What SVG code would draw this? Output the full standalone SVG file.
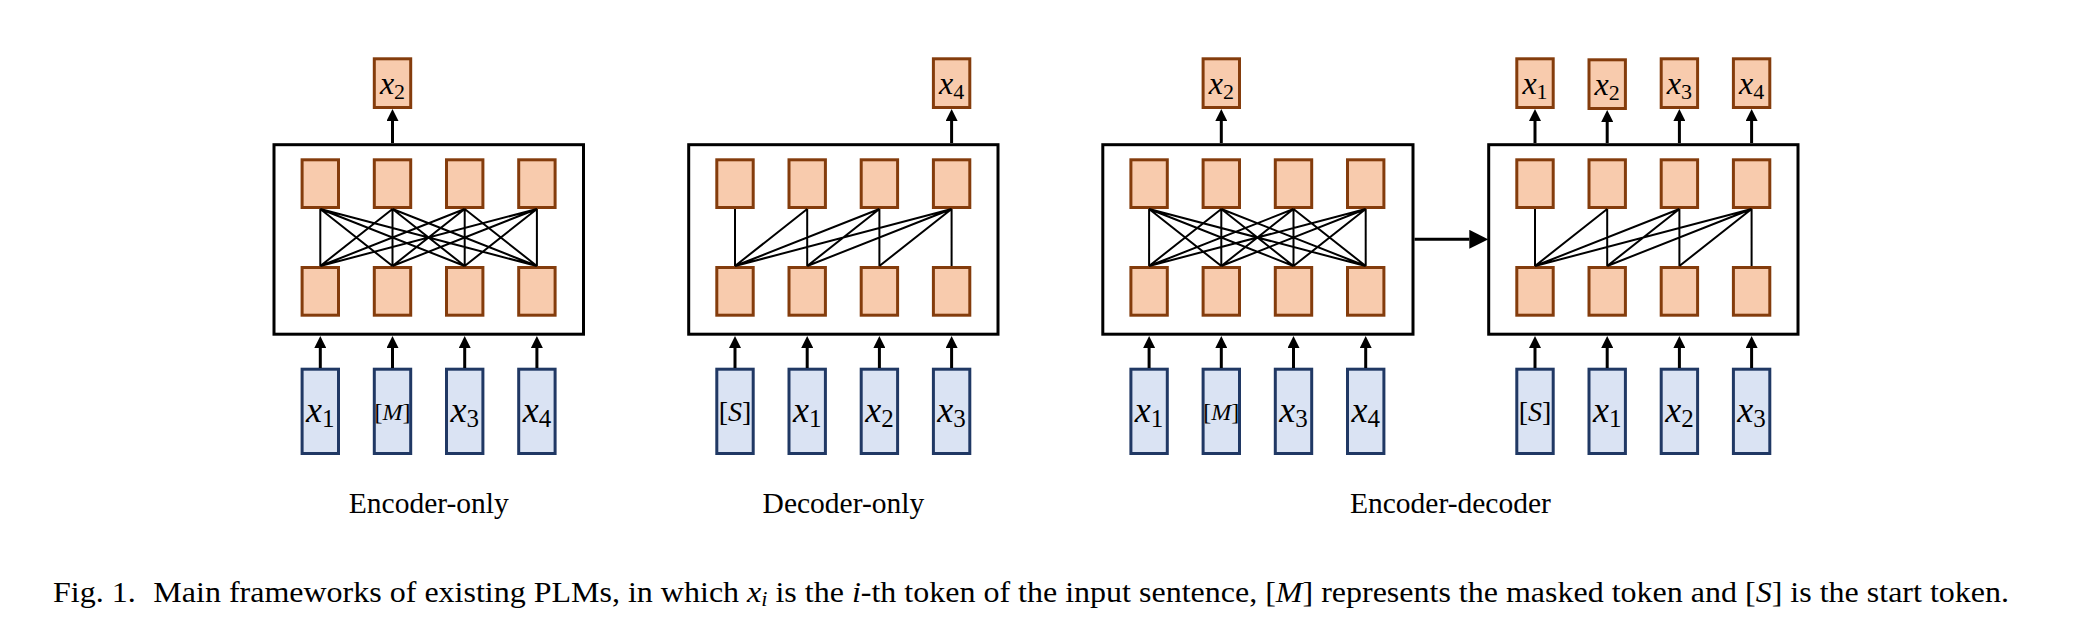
<svg xmlns="http://www.w3.org/2000/svg" width="2075" height="629" viewBox="0 0 2075 629">
<style>
.frame{fill:#fff;stroke:#000;stroke-width:3}
.ob{fill:#F8CBAD;stroke:#843C0C;stroke-width:3}
.ib{fill:#DAE3F3;stroke:#203864;stroke-width:3}
.conn{fill:none;stroke:#000;stroke-width:2}
.arr{fill:none;stroke:#000;stroke-width:3}
.mo{font-family:"Liberation Serif",serif;font-size:32px;fill:#000}
.mi{font-family:"Liberation Serif",serif;font-size:36px;fill:#000}
.br{font-size:24px}
.bs{font-size:28px}
.it{font-style:italic}
.so{font-size:22px}
.si{font-size:25px}
.lbl{font-family:"Liberation Serif",serif;font-size:29.5px;fill:#000}
.cap{font-family:"Liberation Serif",serif;font-size:29px;fill:#000}
</style>
<defs>
<marker id="ah" markerUnits="userSpaceOnUse" markerWidth="12" markerHeight="12" viewBox="0 0 12 12" refX="0" refY="6" orient="auto"><path d="M0,0L12,6L0,12z" fill="#000"/></marker>
<marker id="ahb" markerUnits="userSpaceOnUse" markerWidth="19" markerHeight="19" viewBox="0 0 19 19" refX="0" refY="9.5" orient="auto"><path d="M0,0L19,9.5L0,19z" fill="#000"/></marker>
</defs>

<!-- Encoder-only -->
<g id="encoder-only">
<rect class="frame" x="274" y="144.7" width="309.5" height="189.5"/>
<rect class="ob" x="302.1" y="159.8" width="36.4" height="47.7"/>
<rect class="ob" x="374.3" y="159.8" width="36.4" height="47.7"/>
<rect class="ob" x="446.5" y="159.8" width="36.4" height="47.7"/>
<rect class="ob" x="518.7" y="159.8" width="36.4" height="47.7"/>
<rect class="ob" x="302.1" y="267.5" width="36.4" height="47.7"/>
<rect class="ob" x="374.3" y="267.5" width="36.4" height="47.7"/>
<rect class="ob" x="446.5" y="267.5" width="36.4" height="47.7"/>
<rect class="ob" x="518.7" y="267.5" width="36.4" height="47.7"/>
</g>
<g id="eo-out">
<rect class="ob" x="374.3" y="58.8" width="36.4" height="48.7"/>
<text class="mo" x="392.5" y="94" text-anchor="middle"><tspan class="it">x</tspan><tspan class="so" dy="5">2</tspan></text>
</g>
<g id="eo-in">
<rect class="ib" x="302.1" y="369.2" width="36.4" height="84.3"/>
<rect class="ib" x="374.3" y="369.2" width="36.4" height="84.3"/>
<rect class="ib" x="446.5" y="369.2" width="36.4" height="84.3"/>
<rect class="ib" x="518.7" y="369.2" width="36.4" height="84.3"/>
<text class="mi" x="320.3" y="421.5" text-anchor="middle"><tspan class="it">x</tspan><tspan class="si" dy="5.5">1</tspan></text>
<text class="mi br" x="392.5" y="420" text-anchor="middle">[<tspan class="it">M</tspan>]</text>
<text class="mi" x="464.7" y="421.5" text-anchor="middle"><tspan class="it">x</tspan><tspan class="si" dy="5.5">3</tspan></text>
<text class="mi" x="536.9" y="421.5" text-anchor="middle"><tspan class="it">x</tspan><tspan class="si" dy="5.5">4</tspan></text>
</g>
<text id="lbl-eo" class="lbl" x="428.8" y="513" text-anchor="middle">Encoder-only</text>

<!-- Decoder-only -->
<g id="decoder-only">
<rect class="frame" x="688.7" y="144.7" width="309.3" height="189.5"/>
<rect class="ob" x="716.8" y="159.8" width="36.4" height="47.7"/>
<rect class="ob" x="789" y="159.8" width="36.4" height="47.7"/>
<rect class="ob" x="861.2" y="159.8" width="36.4" height="47.7"/>
<rect class="ob" x="933.4" y="159.8" width="36.4" height="47.7"/>
<rect class="ob" x="716.8" y="267.5" width="36.4" height="47.7"/>
<rect class="ob" x="789" y="267.5" width="36.4" height="47.7"/>
<rect class="ob" x="861.2" y="267.5" width="36.4" height="47.7"/>
<rect class="ob" x="933.4" y="267.5" width="36.4" height="47.7"/>
</g>
<g id="do-out">
<rect class="ob" x="933.4" y="58.8" width="36.4" height="48.7"/>
<text class="mo" x="951.6" y="94" text-anchor="middle"><tspan class="it">x</tspan><tspan class="so" dy="5">4</tspan></text>
</g>
<g id="do-in">
<rect class="ib" x="716.8" y="369.2" width="36.4" height="84.3"/>
<rect class="ib" x="789" y="369.2" width="36.4" height="84.3"/>
<rect class="ib" x="861.2" y="369.2" width="36.4" height="84.3"/>
<rect class="ib" x="933.4" y="369.2" width="36.4" height="84.3"/>
<text class="mi bs" x="735" y="421" text-anchor="middle">[<tspan class="it">S</tspan>]</text>
<text class="mi" x="807.2" y="421.5" text-anchor="middle"><tspan class="it">x</tspan><tspan class="si" dy="5.5">1</tspan></text>
<text class="mi" x="879.4" y="421.5" text-anchor="middle"><tspan class="it">x</tspan><tspan class="si" dy="5.5">2</tspan></text>
<text class="mi" x="951.6" y="421.5" text-anchor="middle"><tspan class="it">x</tspan><tspan class="si" dy="5.5">3</tspan></text>
</g>
<text id="lbl-do" class="lbl" x="843.4" y="513" text-anchor="middle">Decoder-only</text>

<!-- Encoder-decoder: encoder -->
<g id="ed-encoder">
<rect class="frame" x="1102.8" y="144.7" width="310.2" height="189.5"/>
<rect class="ob" x="1130.9" y="159.8" width="36.4" height="47.7"/>
<rect class="ob" x="1203.1" y="159.8" width="36.4" height="47.7"/>
<rect class="ob" x="1275.3" y="159.8" width="36.4" height="47.7"/>
<rect class="ob" x="1347.5" y="159.8" width="36.4" height="47.7"/>
<rect class="ob" x="1130.9" y="267.5" width="36.4" height="47.7"/>
<rect class="ob" x="1203.1" y="267.5" width="36.4" height="47.7"/>
<rect class="ob" x="1275.3" y="267.5" width="36.4" height="47.7"/>
<rect class="ob" x="1347.5" y="267.5" width="36.4" height="47.7"/>
</g>
<g id="ede-out">
<rect class="ob" x="1203.1" y="58.8" width="36.4" height="48.7"/>
<text class="mo" x="1221.3" y="94" text-anchor="middle"><tspan class="it">x</tspan><tspan class="so" dy="5">2</tspan></text>
</g>
<g id="ede-in">
<rect class="ib" x="1130.9" y="369.2" width="36.4" height="84.3"/>
<rect class="ib" x="1203.1" y="369.2" width="36.4" height="84.3"/>
<rect class="ib" x="1275.3" y="369.2" width="36.4" height="84.3"/>
<rect class="ib" x="1347.5" y="369.2" width="36.4" height="84.3"/>
<text class="mi" x="1149.1" y="421.5" text-anchor="middle"><tspan class="it">x</tspan><tspan class="si" dy="5.5">1</tspan></text>
<text class="mi br" x="1221.3" y="420" text-anchor="middle">[<tspan class="it">M</tspan>]</text>
<text class="mi" x="1293.5" y="421.5" text-anchor="middle"><tspan class="it">x</tspan><tspan class="si" dy="5.5">3</tspan></text>
<text class="mi" x="1365.7" y="421.5" text-anchor="middle"><tspan class="it">x</tspan><tspan class="si" dy="5.5">4</tspan></text>
</g>

<!-- Encoder-decoder: decoder -->
<g id="ed-decoder">
<rect class="frame" x="1488.7" y="144.7" width="309.3" height="189.5"/>
<rect class="ob" x="1516.8" y="159.8" width="36.4" height="47.7"/>
<rect class="ob" x="1589" y="159.8" width="36.4" height="47.7"/>
<rect class="ob" x="1661.2" y="159.8" width="36.4" height="47.7"/>
<rect class="ob" x="1733.4" y="159.8" width="36.4" height="47.7"/>
<rect class="ob" x="1516.8" y="267.5" width="36.4" height="47.7"/>
<rect class="ob" x="1589" y="267.5" width="36.4" height="47.7"/>
<rect class="ob" x="1661.2" y="267.5" width="36.4" height="47.7"/>
<rect class="ob" x="1733.4" y="267.5" width="36.4" height="47.7"/>
</g>
<g id="edd-out">
<rect class="ob" x="1516.8" y="58.8" width="36.4" height="48.7"/>
<rect class="ob" x="1589" y="59.8" width="36.4" height="48.7"/>
<rect class="ob" x="1661.2" y="58.8" width="36.4" height="48.7"/>
<rect class="ob" x="1733.4" y="58.8" width="36.4" height="48.7"/>
<text class="mo" x="1535" y="94" text-anchor="middle"><tspan class="it">x</tspan><tspan class="so" dy="5">1</tspan></text>
<text class="mo" x="1607.2" y="95" text-anchor="middle"><tspan class="it">x</tspan><tspan class="so" dy="5">2</tspan></text>
<text class="mo" x="1679.4" y="94" text-anchor="middle"><tspan class="it">x</tspan><tspan class="so" dy="5">3</tspan></text>
<text class="mo" x="1751.6" y="94" text-anchor="middle"><tspan class="it">x</tspan><tspan class="so" dy="5">4</tspan></text>
</g>
<g id="edd-in">
<rect class="ib" x="1516.8" y="369.2" width="36.4" height="84.3"/>
<rect class="ib" x="1589" y="369.2" width="36.4" height="84.3"/>
<rect class="ib" x="1661.2" y="369.2" width="36.4" height="84.3"/>
<rect class="ib" x="1733.4" y="369.2" width="36.4" height="84.3"/>
<text class="mi bs" x="1535" y="421" text-anchor="middle">[<tspan class="it">S</tspan>]</text>
<text class="mi" x="1607.2" y="421.5" text-anchor="middle"><tspan class="it">x</tspan><tspan class="si" dy="5.5">1</tspan></text>
<text class="mi" x="1679.4" y="421.5" text-anchor="middle"><tspan class="it">x</tspan><tspan class="si" dy="5.5">2</tspan></text>
<text class="mi" x="1751.6" y="421.5" text-anchor="middle"><tspan class="it">x</tspan><tspan class="si" dy="5.5">3</tspan></text>
</g>
<text id="lbl-ed" class="lbl" x="1450.4" y="513" text-anchor="middle">Encoder-decoder</text>

<!-- Connectors -->
<g id="connectors">
<path class="conn" d="M320.3 209L320.3 266M320.3 209L392.5 266M320.3 209L464.7 266M320.3 209L536.9 266M392.5 209L320.3 266M392.5 209L392.5 266M392.5 209L464.7 266M392.5 209L536.9 266M464.7 209L320.3 266M464.7 209L392.5 266M464.7 209L464.7 266M464.7 209L536.9 266M536.9 209L320.3 266M536.9 209L392.5 266M536.9 209L464.7 266M536.9 209L536.9 266"/>
<path class="conn" d="M735 209L735 266M807.2 209L735 266M807.2 209L807.2 266M879.4 209L735 266M879.4 209L807.2 266M879.4 209L879.4 266M951.6 209L735 266M951.6 209L807.2 266M951.6 209L879.4 266M951.6 209L951.6 266"/>
<path class="conn" d="M1149.1 209L1149.1 266M1149.1 209L1221.3 266M1149.1 209L1293.5 266M1149.1 209L1365.7 266M1221.3 209L1149.1 266M1221.3 209L1221.3 266M1221.3 209L1293.5 266M1221.3 209L1365.7 266M1293.5 209L1149.1 266M1293.5 209L1221.3 266M1293.5 209L1293.5 266M1293.5 209L1365.7 266M1365.7 209L1149.1 266M1365.7 209L1221.3 266M1365.7 209L1293.5 266M1365.7 209L1365.7 266"/>
<path class="conn" d="M1535 209L1535 266M1607.2 209L1535 266M1607.2 209L1607.2 266M1679.4 209L1535 266M1679.4 209L1607.2 266M1679.4 209L1679.4 266M1751.6 209L1535 266M1751.6 209L1607.2 266M1751.6 209L1679.4 266M1751.6 209L1751.6 266"/>
<!-- output arrows -->
<line class="arr" x1="392.5" y1="143" x2="392.5" y2="121" marker-end="url(#ah)"/>
<line class="arr" x1="951.6" y1="143" x2="951.6" y2="121" marker-end="url(#ah)"/>
<line class="arr" x1="1221.3" y1="143" x2="1221.3" y2="121" marker-end="url(#ah)"/>
<line class="arr" x1="1535" y1="143" x2="1535" y2="121" marker-end="url(#ah)"/>
<line class="arr" x1="1607.2" y1="143" x2="1607.2" y2="122" marker-end="url(#ah)"/>
<line class="arr" x1="1679.4" y1="143" x2="1679.4" y2="121" marker-end="url(#ah)"/>
<line class="arr" x1="1751.6" y1="143" x2="1751.6" y2="121" marker-end="url(#ah)"/>
<!-- input arrows -->
<line class="arr" x1="320.3" y1="368" x2="320.3" y2="348" marker-end="url(#ah)"/>
<line class="arr" x1="392.5" y1="368" x2="392.5" y2="348" marker-end="url(#ah)"/>
<line class="arr" x1="464.7" y1="368" x2="464.7" y2="348" marker-end="url(#ah)"/>
<line class="arr" x1="536.9" y1="368" x2="536.9" y2="348" marker-end="url(#ah)"/>
<line class="arr" x1="735" y1="368" x2="735" y2="348" marker-end="url(#ah)"/>
<line class="arr" x1="807.2" y1="368" x2="807.2" y2="348" marker-end="url(#ah)"/>
<line class="arr" x1="879.4" y1="368" x2="879.4" y2="348" marker-end="url(#ah)"/>
<line class="arr" x1="951.6" y1="368" x2="951.6" y2="348" marker-end="url(#ah)"/>
<line class="arr" x1="1149.1" y1="368" x2="1149.1" y2="348" marker-end="url(#ah)"/>
<line class="arr" x1="1221.3" y1="368" x2="1221.3" y2="348" marker-end="url(#ah)"/>
<line class="arr" x1="1293.5" y1="368" x2="1293.5" y2="348" marker-end="url(#ah)"/>
<line class="arr" x1="1365.7" y1="368" x2="1365.7" y2="348" marker-end="url(#ah)"/>
<line class="arr" x1="1535" y1="368" x2="1535" y2="348" marker-end="url(#ah)"/>
<line class="arr" x1="1607.2" y1="368" x2="1607.2" y2="348" marker-end="url(#ah)"/>
<line class="arr" x1="1679.4" y1="368" x2="1679.4" y2="348" marker-end="url(#ah)"/>
<line class="arr" x1="1751.6" y1="368" x2="1751.6" y2="348" marker-end="url(#ah)"/>
<!-- encoder to decoder -->
<line class="arr" x1="1414.5" y1="239.3" x2="1469.3" y2="239.3" marker-end="url(#ahb)"/>
</g>

<text id="caption" class="cap" x="53" y="602" textLength="1956" lengthAdjust="spacingAndGlyphs">Fig. 1.<tspan dx="16">Main frameworks of existing PLMs, in which </tspan><tspan class="it">x</tspan><tspan class="it" font-size="20px" dy="4">i</tspan><tspan dy="-4"> is the </tspan><tspan class="it">i</tspan>-th token of the input sentence, [<tspan class="it">M</tspan>] represents the masked token and [<tspan class="it">S</tspan>] is the start token.</text>
</svg>
